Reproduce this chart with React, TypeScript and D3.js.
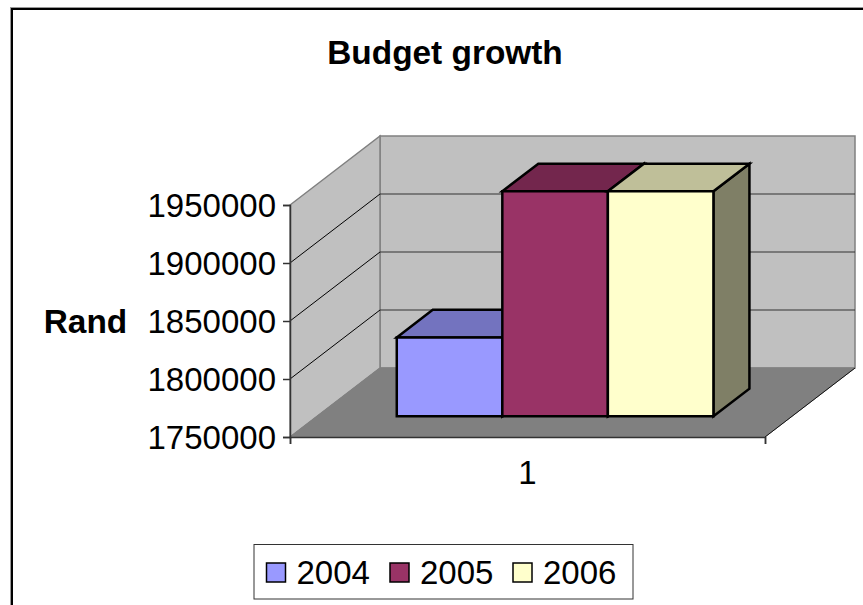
import React, { useRef, useEffect } from "react";
import * as d3 from "d3";

const categories = ["1"];
const seriesNames = ["2004", "2005", "2006"];
const seriesValues = [1818000, 1944000, 1944000];
const seriesColors = ["#9999ff", "#993366", "#ffffcc"];
const seriesTops = ["#7373bf", "#73264d", "#bfbf99"];
const seriesSides = ["#7373bf", "#73264d", "#7f7f66"];
const yTicks = [1750000, 1800000, 1850000, 1900000, 1950000];

const width = 863;
const height = 605;
const font = "'Liberation Sans', Arial, sans-serif";

const App: React.FC = () => {
  const svgRef = useRef<SVGSVGElement | null>(null);

  useEffect(() => {
    const svg = d3.select(svgRef.current);
    svg.selectAll("*").remove();

    // front plane of the 3d box
    const left = 290;
    const right = 765;
    const bottom = 437;
    const top = 205;
    const yScale = d3.scaleLinear().domain([1750000, 1950000]).range([bottom, top]);
    const x0 = d3.scaleBand().domain(categories).range([left + 0.6, right + 0.6]).paddingInner(0).paddingOuter(0.25);
    const x1 = d3.scaleBand().domain(seriesNames).range([0, x0.bandwidth()]);

    // depth: 0 = front plane, 1 = back wall
    const depthX = d3.scaleLinear().domain([0, 1]).range([0, 90]);
    const depthY = d3.scaleLinear().domain([0, 1]).range([0, -69]);
    const pt = (x: number, y: number, d: number) => `${x + depthX(d)},${y + depthY(d)}`;
    const poly = (pts: string[], fill: string, stroke: string, sw: number) =>
      svg.append("polygon").attr("points", pts.join(" ")).attr("fill", fill)
        .attr("stroke", stroke).attr("stroke-width", sw).attr("stroke-linejoin", "miter");

    // chart frame, the right and bottom edges fall outside the picture
    svg.append("rect").attr("x", 10.5).attr("y", 7.5).attr("width", 900).attr("height", 700)
      .attr("fill", "none").attr("stroke", "#999").attr("stroke-width", 1);
    svg.append("rect").attr("x", 12).attr("y", 9).attr("width", 900).attr("height", 700)
      .attr("fill", "#fff").attr("stroke", "#000").attr("stroke-width", 2);

    // walls and floor
    poly([pt(left, bottom, 1), pt(right, bottom, 1), pt(right, top, 1), pt(left, top, 1)], "#c0c0c0", "#808080", 1.5);
    poly([pt(left, bottom, 0), pt(left, bottom, 1), pt(left, top, 1), pt(left, top, 0)], "#c0c0c0", "#808080", 1.5);
    poly([pt(left, bottom, 0), pt(right, bottom, 0), pt(right, bottom, 1), pt(left, bottom, 1)], "#808080", "#808080", 1);
    svg.append("line").attr("x1", right).attr("y1", bottom).attr("x2", right + depthX(1)).attr("y2", bottom + depthY(1))
      .attr("stroke", "#111").attr("stroke-width", 1);

    // gridlines, the top one is the wall edge
    yTicks.slice(1, -1).forEach((t) => {
      const y = yScale(t);
      svg.append("line").attr("x1", left).attr("y1", y).attr("x2", left + depthX(1)).attr("y2", y + depthY(1))
        .attr("stroke", "#000").attr("stroke-width", 1);
      svg.append("line").attr("x1", left + depthX(1)).attr("y1", y + depthY(1)).attr("x2", right + depthX(1)).attr("y2", y + depthY(1))
        .attr("stroke", "#333").attr("stroke-width", 1.2);
    });

    // axes
    const yAxis = d3.axisLeft(yScale).tickValues(yTicks).tickSize(7).tickPadding(7).tickFormat((d) => String(d));
    const gy = svg.append("g").attr("transform", `translate(${left},0)`).call(yAxis as any);
    gy.selectAll("path,line").attr("stroke", "#333").attr("stroke-width", 1.5);
    gy.selectAll("text").attr("font-family", font).attr("font-size", 33).attr("dy", "0.35em").attr("fill", "#000");

    const xEdge = d3.scaleLinear().domain([0, 1]).range([left, right]);
    const xAxis = d3.axisBottom(xEdge).tickValues([0, 1]).tickSize(7).tickFormat(() => "");
    const gx = svg.append("g").attr("transform", `translate(0,${bottom})`).call(xAxis as any);
    gx.selectAll("path,line").attr("stroke", "#333").attr("stroke-width", 1.5);

    // bars
    const d0 = 0.3;
    const d1 = 0.7;
    const base = yScale.domain()[0];
    seriesNames.forEach((name, i) => {
      const xa = x0(categories[0])! + x1(name)!;
      const xb = xa + x1.bandwidth();
      const yt = yScale(seriesValues[i]);
      const yb = yScale(base);
      const sw = 2.5;
      poly([pt(xb, yb, d0), pt(xb, yb, d1), pt(xb, yt, d1), pt(xb, yt, d0)], seriesSides[i], "#000", sw);
      poly([pt(xa, yt, d0), pt(xb, yt, d0), pt(xb, yt, d1), pt(xa, yt, d1)], seriesTops[i], "#000", sw);
      poly([pt(xa, yb, d0), pt(xb, yb, d0), pt(xb, yt, d0), pt(xa, yt, d0)], seriesColors[i], "#000", sw);
    });

    // category label
    svg.append("text").attr("x", (left + right) / 2).attr("y", 484).attr("text-anchor", "middle")
      .attr("font-family", font).attr("font-size", 33).text(categories[0]);

    // titles
    svg.append("text").attr("x", 445).attr("y", 64).attr("text-anchor", "middle")
      .attr("font-family", font).attr("font-size", 33.4).attr("font-weight", "bold").text("Budget growth");
    svg.append("text").attr("x", 85.5).attr("y", 333).attr("text-anchor", "middle")
      .attr("font-family", font).attr("font-size", 33.4).attr("font-weight", "bold").text("Rand");

    // legend
    svg.append("rect").attr("x", 254).attr("y", 544.5).attr("width", 379).attr("height", 54.5)
      .attr("fill", "#fff").attr("stroke", "#333").attr("stroke-width", 1);
    const legendX = d3.scaleOrdinal<string, number>().domain(seriesNames).range([266.5, 390, 513]);
    seriesNames.forEach((name, i) => {
      const lx = legendX(name);
      svg.append("rect").attr("x", lx).attr("y", 563).attr("width", 19).attr("height", 19)
        .attr("fill", seriesColors[i]).attr("stroke", "#000").attr("stroke-width", 1.5);
      svg.append("text").attr("x", lx + 30).attr("y", 583.5).attr("font-family", font).attr("font-size", 33).text(name);
    });
  }, []);

  return <svg ref={svgRef} width={width} height={height} style={{ position: "fixed", left: 0, top: 0 }} />;
};

export default App;
